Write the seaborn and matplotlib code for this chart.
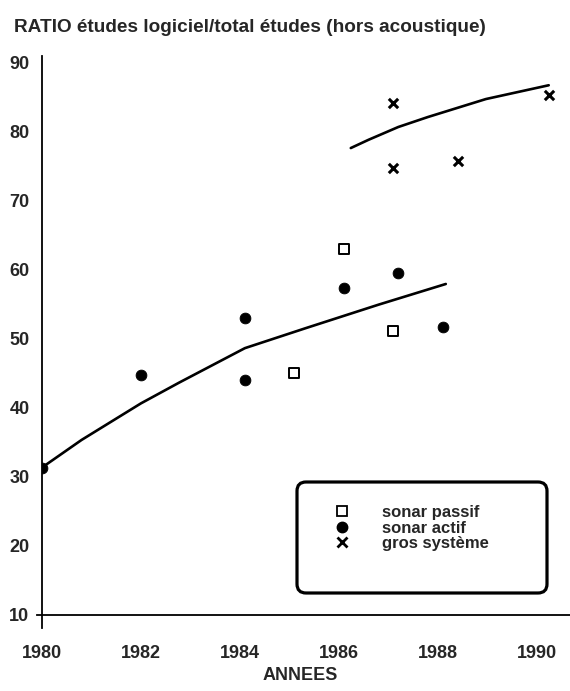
import matplotlib
matplotlib.use("Agg")
import matplotlib.pyplot as plt
import matplotlib.patches as mpatches
from matplotlib.transforms import IdentityTransform
from matplotlib.lines import Line2D
import seaborn as sns
import pandas as pd

# ---- data ----
passif_year = [1985.1, 1986.1, 1987.1]
passif_val = [45.0, 63.0, 51.1]

actif_year = [1980.0, 1982.0, 1984.1, 1984.1, 1986.1, 1987.2, 1988.1]
actif_val = [31.3, 44.7, 53.0, 44.0, 57.3, 59.5, 51.7]

gros_year = [1987.1, 1987.1, 1988.4, 1990.25]
gros_val = [84.1, 74.7, 75.7, 85.3]

trend_low_year = [1980.0, 1980.8, 1982.0, 1982.77, 1984.1, 1985.33, 1986.8, 1988.16]
trend_low_val = [31.3, 35.3, 40.6, 43.6, 48.6, 51.5, 54.9, 57.9]

trend_high_year = [1986.24, 1986.6, 1987.2, 1987.8, 1988.97, 1990.24]
trend_high_val = [77.6, 78.8, 80.65, 82.1, 84.7, 86.7]

x_ticks = [1980, 1982, 1984, 1986, 1988, 1990]
y_ticks = [10, 20, 30, 40, 50, 60, 70, 80, 90]

labels = ["sonar passif", "sonar actif", "gros système"]
title = "RATIO études logiciel/total études (hors acoustique)"
xlabel = "ANNEES"

# ---- styling ----
sns.set_style("white")
plt.rcParams["font.family"] = ["Liberation Sans", "DejaVu Sans"]
plt.rcParams["font.weight"] = "bold"

W, H = 570, 691
fig = plt.figure(figsize=(W / 100, H / 100), dpi=100)
ax = fig.add_axes([42 / W, (H - 614.5) / H, 1 - 42 / W, (614.5 - 56) / H])

low = pd.DataFrame({"x": trend_low_year, "y": trend_low_val})
high = pd.DataFrame({"x": trend_high_year, "y": trend_high_val})
sns.lineplot(data=low, x="x", y="y", ax=ax, color="black", lw=1.9, sort=False)
sns.lineplot(data=high, x="x", y="y", ax=ax, color="black", lw=1.9, sort=False)

sns.scatterplot(x=passif_year, y=passif_val, ax=ax, marker="s", s=55,
                facecolor="white", edgecolor="black", linewidth=1.4, zorder=3)
sns.scatterplot(x=actif_year, y=actif_val, ax=ax, marker="o", s=60,
                color="black", edgecolor="black", zorder=3)
sns.scatterplot(x=gros_year, y=gros_val, ax=ax, marker="x", s=45,
                color="black", linewidth=2.2, zorder=3)

ax.set_xlim(1980, 1990.67)
ax.set_ylim(10, 90.94)
ax.set_xticks(x_ticks)
ax.set_yticks(y_ticks)
ax.set_xticklabels([str(t) for t in x_ticks], fontsize=13, fontweight="bold")
ax.set_yticklabels([str(t) for t in y_ticks], fontsize=13, fontweight="bold")
ax.tick_params(axis="x", length=0, pad=22)
ax.tick_params(axis="y", length=0, pad=9)
ax.set_xlabel("")
ax.set_ylabel("")

for side in ["top", "right"]:
    ax.spines[side].set_visible(False)
ax.spines["left"].set_color("black")
ax.spines["bottom"].set_color("black")
ax.spines["left"].set_linewidth(1.3)
ax.spines["bottom"].set_linewidth(1.3)
ax.spines["left"].set_bounds(8.0, 90.94)
ax.spines["bottom"].set_bounds(1979.9, 1990.67)
ax.grid(False)

fig.text(14 / W, 1 - 27 / H, title, fontsize=13.7, fontweight="bold",
         ha="left", va="center")
fig.text(300 / W, 1 - 676 / H, xlabel, fontsize=13, fontweight="bold",
         ha="center", va="center")

# legend
handles = [
    Line2D([], [], ls="none", marker="s", ms=7, mfc="white", mec="black", mew=1.3),
    Line2D([], [], ls="none", marker="o", ms=7.5, mfc="black", mec="black"),
    Line2D([], [], ls="none", marker="x", ms=6.5, mec="black", mew=2.0),
]
leg = ax.legend(handles, labels, loc="upper left", frameon=False,
                bbox_to_anchor=(324 / W, 1 - 497 / H), bbox_transform=fig.transFigure,
                borderpad=0, handlelength=1.2, handletextpad=1.75,
                labelspacing=0.02, prop={"weight": "bold", "size": 12})

box = mpatches.FancyBboxPatch((297, H - 593), 250, 111,
                              boxstyle="round,pad=0,rounding_size=9",
                              transform=IdentityTransform(),
                              fc="none", ec="black", lw=2.3)
fig.patches.append(box)

fig.savefig("out.png", dpi=100)
